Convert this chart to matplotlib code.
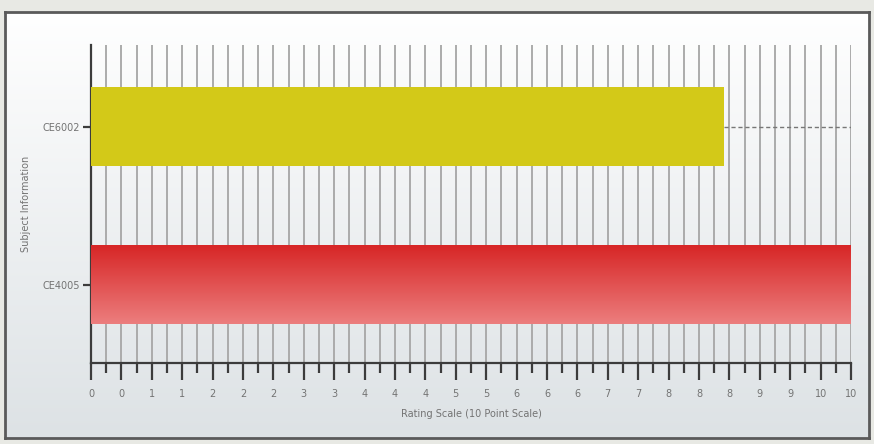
import numpy as np
import matplotlib
matplotlib.use("Agg")
import matplotlib.pyplot as plt
from matplotlib.colors import LinearSegmentedColormap

# ---- data ----
categories = ["CE4005", "CE6002"]
ratings = [10.0, 8.33]
scale_max = 10.0
x_tick_values = [0, 0.4, 0.8, 1.2, 1.6, 2.0, 2.4, 2.8, 3.2, 3.6, 4.0, 4.4, 4.8,
                 5.2, 5.6, 6.0, 6.4, 6.8, 7.2, 7.6, 8.0, 8.4, 8.8, 9.2, 9.6, 10.0]
x_tick_labels = ["0", "0", "1", "1", "2", "2", "2", "3", "3", "4", "4", "4", "5",
                 "5", "6", "6", "6", "7", "7", "8", "8", "8", "9", "9", "10", "10"]
x_label = "Rating Scale (10 Point Scale)"
y_label = "Subject Information"

W, H = 874, 444
fig = plt.figure(figsize=(W / 100, H / 100), dpi=100)
fig.patch.set_facecolor("#e8e9e4")

# ---- framed panel with gradient background ----
fl, fr, ft, fb = 5, 869, 12, 438
bg = fig.add_axes([fl / W, 1 - fb / H, (fr - fl) / W, (fb - ft) / H], zorder=0)
grad = np.linspace(0, 1, 256).reshape(-1, 1)
bg_cmap = LinearSegmentedColormap.from_list("bg", ["#ffffff", "#dde2e5"])
bg.imshow(grad, aspect="auto", cmap=bg_cmap, extent=[0, 1, 1, 0])
bg.set_xlim(0, 1); bg.set_ylim(1, 0)
bg.set_xticks([]); bg.set_yticks([])
for s in bg.spines.values():
    s.set_color("#5a5a5a"); s.set_linewidth(2)

# ---- main axes ----
al, ar, at, ab = 91, 851, 45, 363
ax = fig.add_axes([al / W, 1 - ab / H, (ar - al) / W, (ab - at) / H], zorder=1)
ax.set_facecolor("none")

ypos = np.arange(len(categories))
bar_h = 0.5

# gridlines at every 0.2
minor_vals = [v + 0.2 for v in x_tick_values[:-1]]
ax.set_xticks(x_tick_values)
ax.set_xticklabels(x_tick_labels)
ax.set_xticks(minor_vals, minor=True)
ax.grid(True, axis="x", which="both", color="#ababab", linewidth=1.4, zorder=1)
ax.set_axisbelow(True)

# red gradient bar (CE4005)
red_cmap = LinearSegmentedColormap.from_list("red", ["#d72626", "#ec7e7e"])
y0 = ypos[0]
ax.imshow(grad, aspect="auto", cmap=red_cmap,
          extent=[0, ratings[0], y0 - bar_h / 2, y0 + bar_h / 2],
          origin="upper", zorder=3)
# yellow bar (CE6002)
ax.barh(ypos[1], ratings[1], height=bar_h, color="#d3c918", zorder=3)
# dashed remainder line
ax.hlines(ypos[1], ratings[1], scale_max, colors="#777777", linestyles=(0, (3, 2)),
          linewidth=1.0, zorder=2)
ax.set_xlim(0, scale_max)
ax.set_ylim(-0.494, 1.519)

ax.set_yticks(ypos)
ax.set_yticklabels(categories)

for side in ["top", "right"]:
    ax.spines[side].set_visible(False)
for side in ["left", "bottom"]:
    ax.spines[side].set_color("#3c3c3c")
    ax.spines[side].set_linewidth(1.6)

ax.tick_params(axis="x", which="major", length=12, width=1.6, color="#3c3c3c",
               labelsize=7, labelcolor="#737373", pad=7)
ax.tick_params(axis="x", which="minor", length=7, width=1.6, color="#3c3c3c")
ax.tick_params(axis="y", length=6, width=1.6, color="#3c3c3c",
               labelsize=7, labelcolor="#737373", pad=2)

ax.set_xlabel(x_label, fontsize=7, color="#737373")
ax.xaxis.set_label_coords(0.5, -0.145)
ax.set_ylabel(y_label, fontsize=7, color="#737373")
ax.yaxis.set_label_coords(-0.079, 0.5)

fig.savefig("out.png", dpi=100, facecolor=fig.get_facecolor())
